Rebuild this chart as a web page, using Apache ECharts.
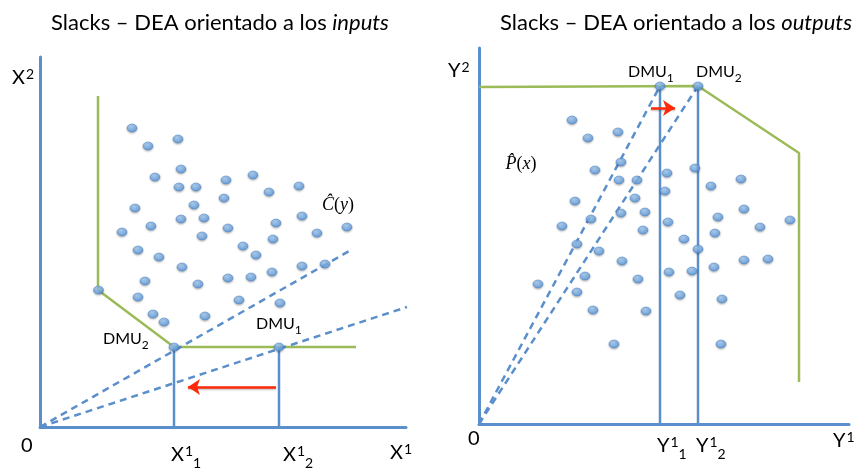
<!DOCTYPE html>
<html>
<head>
<meta charset="utf-8">
<script src="https://cdn.jsdelivr.net/npm/echarts@6/dist/echarts.min.js"></script>
<style>
  html, body { margin: 0; padding: 0; background: #fff; }
  #main { width: 858px; height: 470px; }
</style>
</head>
<body>
<div id="main"></div>
<script>
// ---------- Input-oriented DEA (X1 vs X2) ----------
const inputCloud = [
  [92,299],[108,281],[138,288],[141,258],[115,250],[139,240],[156,240],[186,247],
  [213,252],[259,241],[229,235],[184,229],[154,222],[95,219],[141,208],[164,209],
  [111,201],[82,195],[162,191],[188,199],[236,204],[262,211],[307,200],[277,194],
  [233,188],[203,181],[216,172],[98,177],[119,170],[142,160],[262,161],[285,163],
  [232,155],[211,150],[188,149],[158,143],[105,146],[98,130],[199,127],[240,124],
  [113,113],[124,105],[165,111],[58.5,137]
];
const inputFrontier = [[58,331],[58,137],[134,80],[316,80]];
const inputDMU = [
  { name: 'DMU', sub: '1', value: [239,80] },
  { name: 'DMU', sub: '2', value: [134,80] }
];
const inputRayEnds = [[311,177],[367,120]];
const inputSlack = [[236,40],[148,40]];
const inputAxisMax = [366, 370];

// ---------- Output-oriented DEA (Y1 vs Y2) ----------
const outputCloud = [
  [93,304],[109,286],[139,292],[142,262],[116,254],[140,244],[158,244],[188,251],
  [216,256],[232,238],[262,245],[186,233],[156,226],[96,223],[142,211],[166,212],
  [112,205],[83,198],[164,194],[189,202],[239,207],[265,215],[311,204],[281,197],
  [236,191],[205,185],[219,175],[98,180],[120,173],[143,163],[265,164],[289,165],
  [235,157],[213,153],[190,152],[159,145],[106,148],[59,140],[98,132],[201,129],
  [243,125],[114,114],[167,113],[135,80],[242,80]
];
const outputFrontier = [[0,337],[219,338],[320,271],[320,42]];
const outputDMU = [
  { name: 'DMU', sub: '1', value: [181,338] },
  { name: 'DMU', sub: '2', value: [219,338] }
];
const outputSlack = [[172,316],[196,316]];
const outputAxisMax = [370, 376];

// ---------- Texts ----------
const titles = [
  { plain: 'Slacks – DEA orientado a los ', italic: 'inputs' },
  { plain: 'Slacks – DEA orientado a los ', italic: 'outputs' }
];
const inputAxisTexts = [
  { at: [0,0], main: '0' },
  { at: [134,0], main: 'X', sup: '1', sub: '1' },
  { at: [239,0], main: 'X', sup: '1', sub: '2' },
  { at: [366,0], main: 'X', sup: '1' },
  { at: [0,370], main: 'X', sup: '2' }
];
const outputAxisTexts = [
  { at: [0,0], main: '0' },
  { at: [181,0], main: 'Y', sup: '1', sub: '1' },
  { at: [219,0], main: 'Y', sup: '1', sub: '2' },
  { at: [370,0], main: 'Y', sup: '1' },
  { at: [0,376], main: 'Y', sup: '2' }
];
const setLabels = [
  { grid: 0, at: [298,222], letter: 'Ĉ', arg: 'y' },
  { grid: 1, at: [42,260], letter: 'P\u0302', arg: 'x' }
];

// ---------- Styles ----------
const BLUE = '#5b8fcc';
const GREEN = '#9bbb59';
const RED = '#ff2a0a';
const FONT = 'Lato, "Open Sans", sans-serif';

const dotStyle = {
  color: new echarts.graphic.RadialGradient(0.4, 0.3, 0.75, [
    { offset: 0, color: '#a6cdf4' },
    { offset: 1, color: '#4d8fd8' }
  ]),
  borderColor: '#3d7cc4',
  borderWidth: 0.6,
  shadowBlur: 2,
  shadowColor: 'rgba(0,0,0,0.3)',
  shadowOffsetY: 1.2
};

function axisPair(gi, max) {
  return {
    x: {
      type: 'value', gridIndex: gi, min: 0, max: max[0],
      axisLine: { show: true, onZero: true, lineStyle: { color: BLUE, width: 3 } },
      axisTick: { show: false }, axisLabel: { show: false }, splitLine: { show: false }
    },
    y: {
      type: 'value', gridIndex: gi, min: 0, max: max[1],
      axisLine: { show: true, onZero: true, lineStyle: { color: BLUE, width: 3 } },
      axisTick: { show: false }, axisLabel: { show: false }, splitLine: { show: false }
    }
  };
}
const a0 = axisPair(0, inputAxisMax);
const a1 = axisPair(1, outputAxisMax);

function lineSeries(gi, data, color, dashed, z) {
  return {
    type: 'line', xAxisIndex: gi, yAxisIndex: gi, data: data,
    symbol: 'none', silent: true, animation: false, z: z || 2,
    lineStyle: { color: color, width: 2.5, type: dashed ? [7, 5] : 'solid' }
  };
}
function arrowSeries(gi, seg) {
  return {
    type: 'line', xAxisIndex: gi, yAxisIndex: gi, data: [], animation: false,
    markLine: {
      silent: true, animation: false,
      symbol: ['none', 'arrow'], symbolSize: 12,
      label: { show: false },
      lineStyle: { color: RED, width: 2.5, type: 'solid',
                   shadowBlur: 2, shadowColor: 'rgba(0,0,0,0.3)', shadowOffsetY: 1 },
      data: [[{ coord: seg[0] }, { coord: seg[1] }]]
    }
  };
}
function dotSeries(gi, data, z) {
  return {
    type: 'scatter', xAxisIndex: gi, yAxisIndex: gi, data: data,
    symbol: 'circle', symbolSize: [10, 8], itemStyle: dotStyle,
    silent: true, animation: false, z: z || 5
  };
}

const series = [];
// input panel
series.push(lineSeries(0, inputFrontier, GREEN, false, 2));
inputDMU.forEach(d => series.push(lineSeries(0, [d.value, [d.value[0], 0]], BLUE, false, 3)));
inputRayEnds.forEach(e => series.push(lineSeries(0, [[0,0], e], BLUE, true, 3)));
series.push(arrowSeries(0, inputSlack));
series.push(dotSeries(0, inputCloud));
series.push(dotSeries(0, inputDMU.map(d => d.value), 6));
// output panel
series.push(lineSeries(1, outputFrontier, GREEN, false, 2));
outputDMU.forEach(d => series.push(lineSeries(1, [d.value, [d.value[0], 0]], BLUE, false, 3)));
outputDMU.forEach(d => series.push(lineSeries(1, [[0,0], d.value], BLUE, true, 3)));
series.push(arrowSeries(1, outputSlack));
series.push(dotSeries(1, outputCloud));
series.push(dotSeries(1, outputDMU.map(d => d.value), 6));

const option = {
  backgroundColor: '#fff',
  animation: false,
  grid: [
    { left: 40, top: 57, width: 366, height: 370 },
    { left: 479, top: 48, width: 370, height: 376 }
  ],
  xAxis: [a0.x, a1.x],
  yAxis: [a0.y, a1.y],
  series: series
};

const chart = echarts.init(document.getElementById('main'), null, { renderer: 'canvas' });
chart.setOption(option);

// ---------- Text placement ----------
const axisRich = {
  m: { fontFamily: FONT, fontSize: 20, color: '#000', lineHeight: 30 },
  p: { fontFamily: FONT, fontSize: 14, color: '#000', lineHeight: 14, verticalAlign: 'top', padding: [4, 0, 0, 1] },
  s: { fontFamily: FONT, fontSize: 14, color: '#000', lineHeight: 15, verticalAlign: 'bottom' }
};
const dmuRich = {
  m: { fontFamily: FONT, fontSize: 16, color: '#000', lineHeight: 24 },
  s: { fontFamily: FONT, fontSize: 12, color: '#000', lineHeight: 12, verticalAlign: 'bottom' }
};
const mathRich = {
  i: { fontFamily: '"Liberation Serif", "DejaVu Serif", serif', fontSize: 18, fontStyle: 'italic', color: '#000' },
  r: { fontFamily: '"Liberation Serif", "DejaVu Serif", serif', fontSize: 18, color: '#000' }
};
function richStr(main, sup, sub) {
  return '{m|' + main + '}' + (sup ? '{p|' + sup + '}' : '') + (sub ? '{s|' + sub + '}' : '');
}
function px(gi, pt) {
  return chart.convertToPixel({ gridIndex: gi }, pt);
}

// pixel offsets of each axis text from its anchor (left/middle of first glyph)
const axisTextOffsets = [
  [[-19, 19], [-3, 28], [4, 28], [-16, 26], [-28, 21]],
  [[-11, 15], [-3, 22], [-2, 22], [-16, 17], [-31, 23]]
];
const dmuOffsets = [
  [[-23, -23], [-71, -8]],
  [[-32, -14], [-2, -14]]
];

const graphics = [];
titles.forEach((t, i) => {
  graphics.push({
    type: 'text', x: i === 0 ? 220 : 676, y: 23, silent: true,
    style: {
      text: '{n|' + t.plain + '}{i|' + t.italic + '}',
      align: 'center', verticalAlign: 'middle',
      rich: {
        n: { fontFamily: FONT, fontSize: 22, color: '#111' },
        i: { fontFamily: FONT, fontSize: 22, fontStyle: 'italic', color: '#111' }
      }
    }
  });
});
[inputAxisTexts, outputAxisTexts].forEach((list, gi) => {
  list.forEach((t, k) => {
    const p = px(gi, t.at);
    const off = axisTextOffsets[gi][k];
    graphics.push({
      type: 'text', x: p[0] + off[0], y: p[1] + off[1], silent: true,
      style: { text: richStr(t.main, t.sup, t.sub), rich: axisRich, align: 'left', verticalAlign: 'middle' }
    });
  });
});
[inputDMU, outputDMU].forEach((list, gi) => {
  list.forEach((d, k) => {
    const p = px(gi, d.value);
    const off = dmuOffsets[gi][k];
    graphics.push({
      type: 'text', x: p[0] + off[0], y: p[1] + off[1], silent: true,
      style: { text: richStr(d.name, null, d.sub), rich: dmuRich, align: 'left', verticalAlign: 'middle' }
    });
  });
});
setLabels.forEach(s => {
  const p = px(s.grid, s.at);
  graphics.push({
    type: 'text', x: p[0], y: p[1], silent: true,
    style: {
      text: '{i|' + s.letter + '}{r|(}{i|' + s.arg + '}{r|)}',
      rich: mathRich, align: 'center', verticalAlign: 'middle'
    }
  });
});
chart.setOption({ graphic: graphics });
</script>
</body>
</html>
